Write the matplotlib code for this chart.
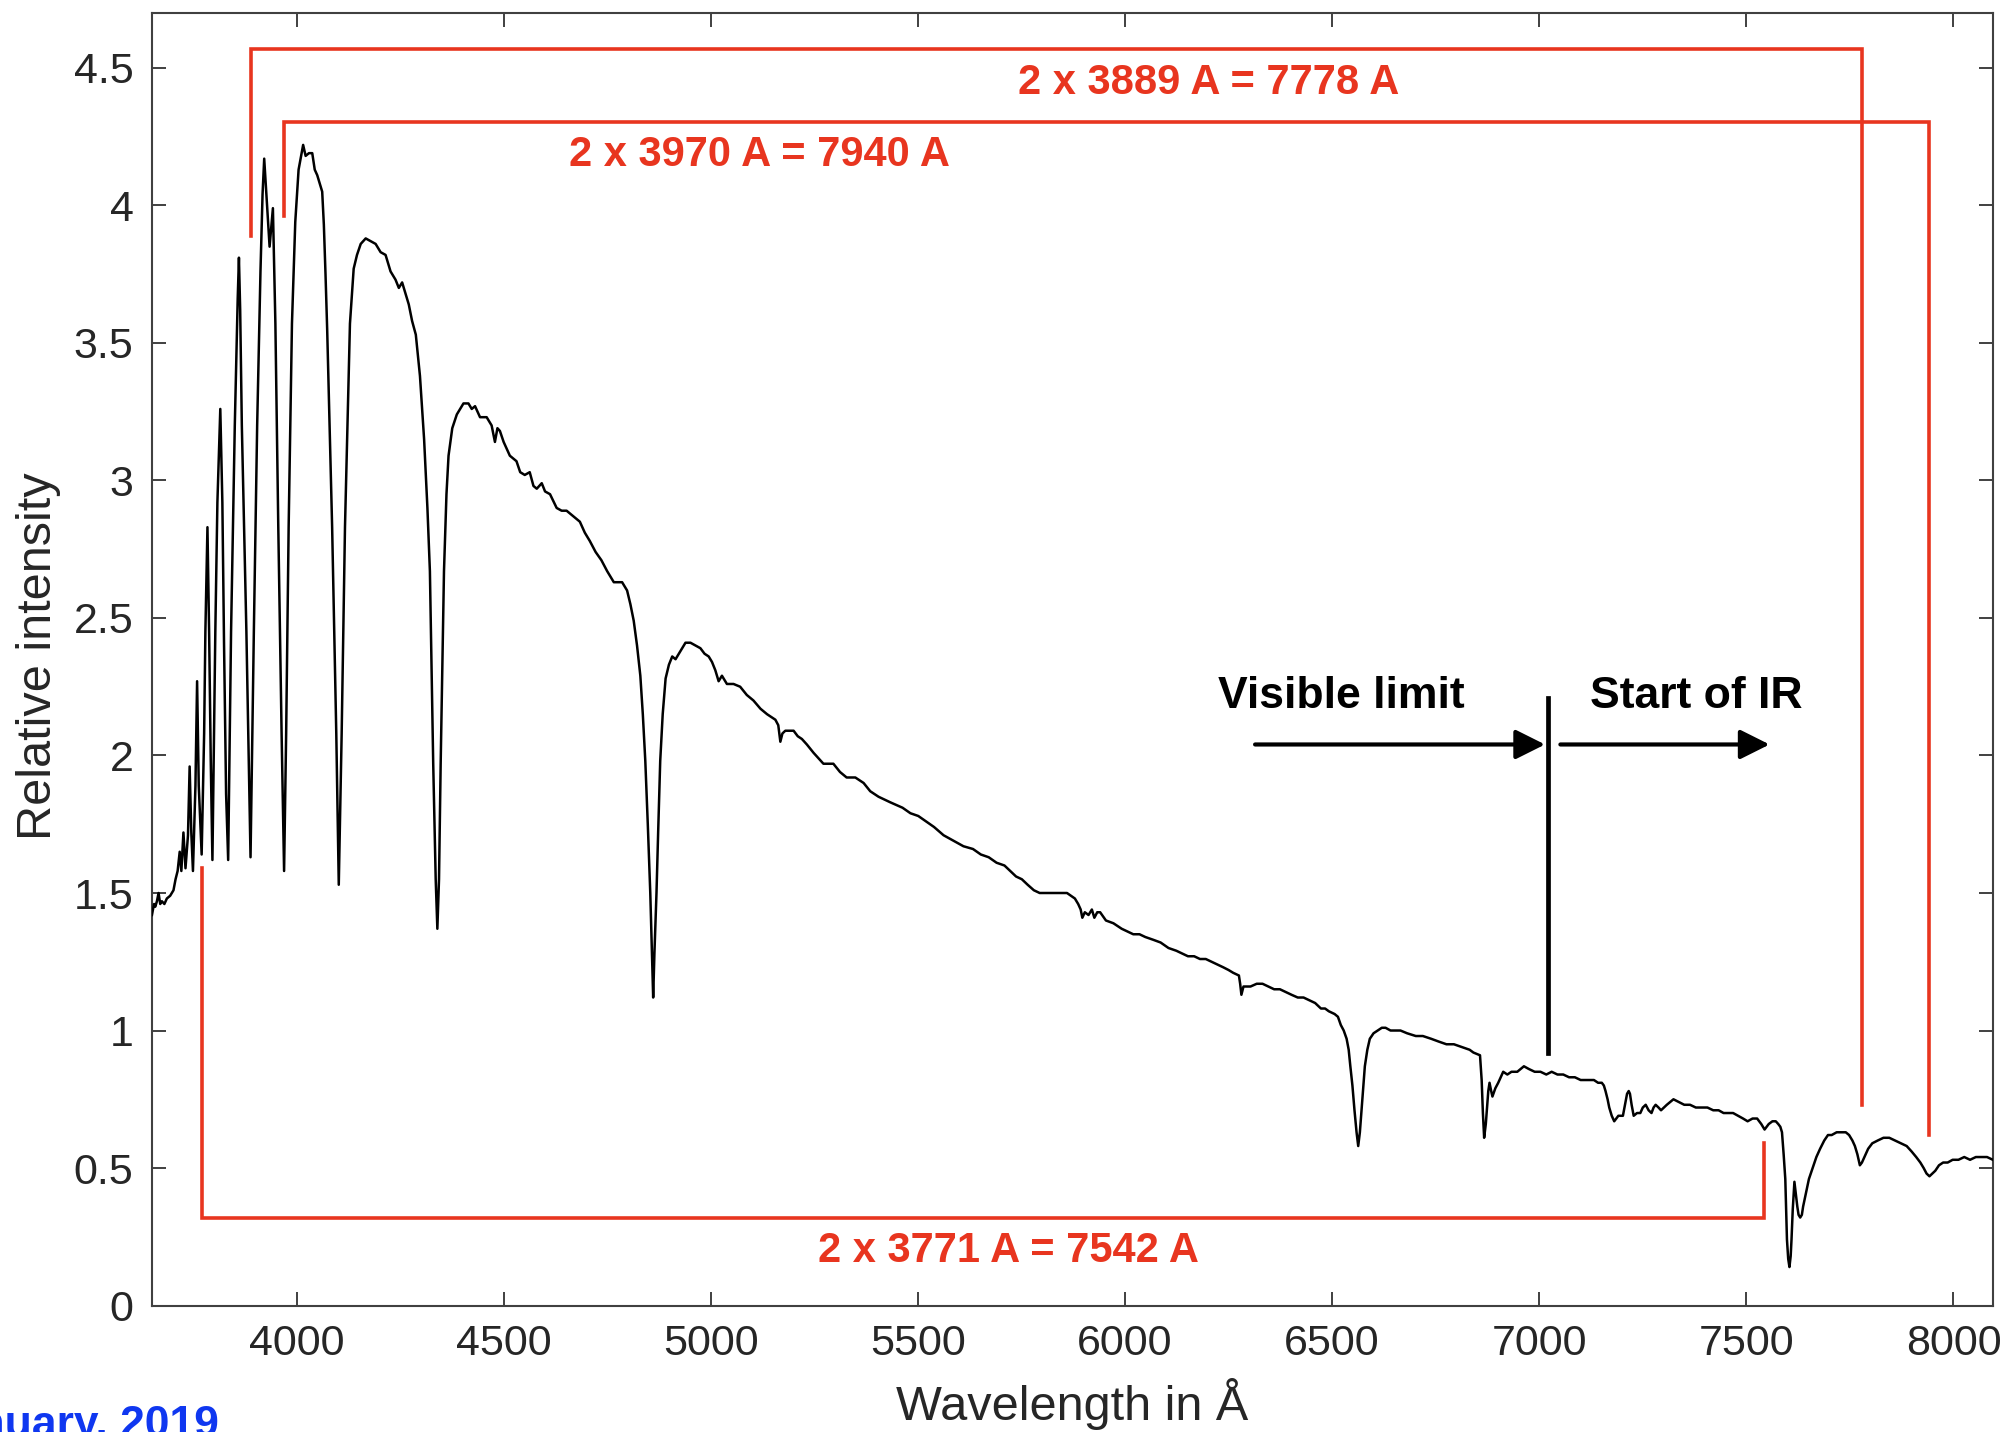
import matplotlib
matplotlib.use("Agg")
import matplotlib.pyplot as plt

plt.rcParams['font.family'] = ['Liberation Sans', 'DejaVu Sans']

# Spectrum: wavelength (Angstrom) and relative intensity
wavelength = [
    3651, 3656, 3659, 3663, 3667, 3671, 3675, 3681, 3687, 3695, 3703, 3708, 3713, 3718, 3722,
    3727, 3732, 3738, 3742, 3746, 3750, 3756, 3760, 3764, 3771, 3777, 3780, 3785, 3789, 3793,
    3797, 3804, 3809, 3816, 3821, 3825, 3830, 3835, 3842, 3851, 3858, 3861, 3864, 3868, 3879,
    3886, 3889, 3897, 3905, 3913, 3918, 3922, 3929, 3935, 3943, 3949, 3956, 3964, 3970, 3975,
    3981, 3989, 3997, 4005, 4016, 4022, 4030, 4038, 4044, 4050, 4056, 4062, 4066, 4070, 4074,
    4086, 4096, 4102, 4109, 4117, 4129, 4138, 4146, 4155, 4167, 4179, 4191, 4203, 4215, 4227,
    4239, 4247, 4255, 4263, 4271, 4279, 4288, 4298, 4308, 4316, 4322, 4330, 4336, 4340, 4344,
    4348, 4356, 4362, 4367, 4376, 4387, 4403, 4415, 4423, 4431, 4443, 4459, 4471, 4479, 4485,
    4491, 4500, 4515, 4531, 4540, 4551, 4563, 4572, 4580, 4592, 4600, 4612, 4628, 4640, 4652,
    4668, 4684, 4696, 4708, 4722, 4736, 4750, 4766, 4786, 4798, 4806, 4814, 4822, 4830, 4836,
    4842, 4848, 4854, 4858, 4861, 4864, 4869, 4873, 4878, 4884, 4891, 4899, 4907, 4915, 4923,
    4931, 4939, 4951, 4963, 4975, 4985, 4995, 5003, 5011, 5019, 5027, 5039, 5055, 5071, 5087,
    5103, 5120, 5136, 5156, 5163, 5168, 5173, 5180, 5200, 5210, 5220, 5232, 5248, 5260, 5272,
    5284, 5296, 5312, 5328, 5349, 5369, 5385, 5405, 5433, 5463, 5482, 5501, 5520, 5539, 5562,
    5586, 5610, 5633, 5652, 5671, 5690, 5709, 5723, 5737, 5751, 5765, 5780, 5794, 5808, 5822,
    5840, 5860, 5879, 5887, 5893, 5897, 5903, 5912, 5920, 5926, 5933, 5940, 5954, 5972, 5992,
    6006, 6020, 6035, 6049, 6068, 6086, 6105, 6124, 6138, 6152, 6167, 6181, 6195, 6209, 6223,
    6237, 6250, 6261, 6275, 6278, 6281, 6286, 6295, 6303, 6318, 6332, 6346, 6360, 6374, 6388,
    6402, 6417, 6431, 6445, 6459, 6473, 6483, 6492, 6506, 6514, 6521, 6528, 6535, 6540, 6544,
    6549, 6554, 6559, 6563, 6567, 6571, 6575, 6579, 6585, 6591, 6600, 6610, 6620, 6629, 6641,
    6653, 6665, 6681, 6702, 6719, 6739, 6757, 6776, 6794, 6813, 6832, 6841, 6857, 6861, 6864,
    6867, 6871, 6874, 6877, 6880, 6884, 6887, 6894, 6901, 6913, 6923, 6933, 6947, 6955, 6963,
    6975, 6989, 7003, 7017, 7030, 7044, 7058, 7072, 7086, 7100, 7110, 7119, 7132, 7142, 7151,
    7156, 7160, 7165, 7169, 7175, 7181, 7186, 7191, 7197, 7202, 7207, 7212, 7216, 7219, 7223,
    7228, 7236, 7244, 7250, 7257, 7264, 7271, 7276, 7281, 7288, 7294, 7301, 7308, 7316, 7324,
    7337, 7350, 7364, 7378, 7392, 7406, 7420, 7433, 7445, 7456, 7468, 7480, 7492, 7503, 7515,
    7526, 7536, 7544, 7554, 7563, 7571, 7577, 7582, 7586, 7590, 7594, 7596, 7598, 7601, 7604,
    7607, 7609, 7612, 7616, 7619, 7623, 7626, 7630, 7634, 7637, 7644, 7651, 7660, 7669, 7678,
    7688, 7697, 7706, 7718, 7730, 7740, 7748, 7756, 7762, 7768, 7774, 7779, 7785, 7794, 7804,
    7817, 7831, 7845, 7859, 7873, 7887, 7899, 7910, 7920, 7928, 7935, 7942, 7949, 7956, 7965,
    7975, 7986, 7998, 8012, 8026, 8040, 8054, 8068, 8081, 8095,
]
intensity = [
    1.42, 1.46, 1.45, 1.47, 1.50, 1.46, 1.47, 1.46, 1.48, 1.49, 1.51, 1.55, 1.58, 1.65, 1.58,
    1.72, 1.59, 1.71, 1.96, 1.72, 1.58, 1.89, 2.27, 1.89, 1.64, 2.08, 2.45, 2.83, 2.45, 1.98,
    1.62, 2.45, 2.92, 3.26, 2.92, 2.41, 1.86, 1.62, 2.45, 3.20, 3.66, 3.81, 3.62, 3.20, 2.45,
    1.89, 1.63, 2.45, 3.20, 3.76, 4.04, 4.17, 4.00, 3.85, 3.99, 3.57, 2.83, 2.08, 1.58, 2.08,
    2.83, 3.57, 3.94, 4.13, 4.22, 4.18, 4.19, 4.19, 4.13, 4.11, 4.08, 4.05, 3.93, 3.75, 3.55,
    2.83, 2.08, 1.53, 2.08, 2.83, 3.57, 3.77, 3.82, 3.86, 3.88, 3.87, 3.86, 3.83, 3.82, 3.76,
    3.73, 3.70, 3.72, 3.68, 3.64, 3.58, 3.53, 3.38, 3.15, 2.90, 2.67, 1.97, 1.55, 1.37, 1.55,
    1.97, 2.67, 2.95, 3.09, 3.19, 3.24, 3.28, 3.28, 3.26, 3.27, 3.23, 3.23, 3.20, 3.14, 3.19,
    3.18, 3.14, 3.09, 3.07, 3.03, 3.02, 3.03, 2.98, 2.97, 2.99, 2.96, 2.95, 2.90, 2.89, 2.89,
    2.87, 2.85, 2.81, 2.78, 2.74, 2.71, 2.67, 2.63, 2.63, 2.60, 2.55, 2.49, 2.40, 2.29, 2.15,
    1.98, 1.75, 1.50, 1.28, 1.12, 1.28, 1.50, 1.72, 1.98, 2.15, 2.28, 2.33, 2.36, 2.35, 2.37,
    2.39, 2.41, 2.41, 2.40, 2.39, 2.37, 2.36, 2.34, 2.31, 2.27, 2.29, 2.26, 2.26, 2.25, 2.22,
    2.20, 2.17, 2.15, 2.13, 2.11, 2.05, 2.08, 2.09, 2.09, 2.07, 2.06, 2.04, 2.01, 1.99, 1.97,
    1.97, 1.97, 1.94, 1.92, 1.92, 1.90, 1.87, 1.85, 1.83, 1.81, 1.79, 1.78, 1.76, 1.74, 1.71,
    1.69, 1.67, 1.66, 1.64, 1.63, 1.61, 1.60, 1.58, 1.56, 1.55, 1.53, 1.51, 1.50, 1.50, 1.50,
    1.50, 1.50, 1.48, 1.46, 1.44, 1.41, 1.43, 1.42, 1.44, 1.41, 1.43, 1.43, 1.40, 1.39, 1.37,
    1.36, 1.35, 1.35, 1.34, 1.33, 1.32, 1.30, 1.29, 1.28, 1.27, 1.27, 1.26, 1.26, 1.25, 1.24,
    1.23, 1.22, 1.21, 1.20, 1.17, 1.13, 1.16, 1.16, 1.16, 1.17, 1.17, 1.16, 1.15, 1.15, 1.14,
    1.13, 1.12, 1.12, 1.11, 1.10, 1.08, 1.08, 1.07, 1.06, 1.05, 1.02, 1.00, 0.97, 0.93, 0.87,
    0.80, 0.71, 0.63, 0.58, 0.63, 0.71, 0.79, 0.87, 0.93, 0.97, 0.99, 1.00, 1.01, 1.01, 1.00,
    1.00, 1.00, 0.99, 0.98, 0.98, 0.97, 0.96, 0.95, 0.95, 0.94, 0.93, 0.92, 0.91, 0.82, 0.70,
    0.61, 0.66, 0.72, 0.78, 0.81, 0.78, 0.76, 0.79, 0.81, 0.85, 0.84, 0.85, 0.85, 0.86, 0.87,
    0.86, 0.85, 0.85, 0.84, 0.85, 0.84, 0.84, 0.83, 0.83, 0.82, 0.82, 0.82, 0.82, 0.81, 0.81,
    0.80, 0.78, 0.75, 0.72, 0.69, 0.67, 0.68, 0.69, 0.69, 0.69, 0.73, 0.77, 0.78, 0.77, 0.73,
    0.69, 0.70, 0.70, 0.72, 0.73, 0.71, 0.70, 0.72, 0.73, 0.72, 0.71, 0.72, 0.73, 0.74, 0.75,
    0.74, 0.73, 0.73, 0.72, 0.72, 0.72, 0.71, 0.71, 0.70, 0.70, 0.70, 0.69, 0.68, 0.67, 0.68,
    0.68, 0.66, 0.64, 0.66, 0.67, 0.67, 0.66, 0.65, 0.63, 0.55, 0.46, 0.35, 0.24, 0.17, 0.14,
    0.18, 0.24, 0.35, 0.45, 0.41, 0.36, 0.33, 0.32, 0.33, 0.36, 0.41, 0.46, 0.50, 0.54, 0.57,
    0.60, 0.62, 0.62, 0.63, 0.63, 0.63, 0.62, 0.60, 0.58, 0.55, 0.51, 0.52, 0.54, 0.57, 0.59,
    0.60, 0.61, 0.61, 0.60, 0.59, 0.58, 0.56, 0.54, 0.52, 0.50, 0.48, 0.47, 0.48, 0.49, 0.51,
    0.52, 0.52, 0.53, 0.53, 0.54, 0.53, 0.54, 0.54, 0.54, 0.53,
]

# Second-order brackets: first-order wavelength, doubled wavelength,
# bracket height, end heights of the left / right legs, label position
bracket_first = [3889, 3970, 3771]
bracket_second = [7778, 7940, 7542]
bracket_level = [4.57, 4.305, 0.317]
bracket_left_end = [3.89, 3.96, 1.59]
bracket_right_end = [0.73, 0.62, 0.59]
bracket_label_x = [6202, 5118, 5718]
bracket_label_y = [4.405, 4.142, 0.16]

visible_limit = 7020

x_ticks = [4000, 4500, 5000, 5500, 6000, 6500, 7000, 7500, 8000]
y_ticks = [0, 0.5, 1, 1.5, 2, 2.5, 3, 3.5, 4, 4.5]
y_tick_labels = ['0', '0.5', '1', '1.5', '2', '2.5', '3', '3.5', '4', '4.5']

red = '#e8351f'
axis_grey = '#404040'

fig = plt.figure(figsize=(20.15, 14.32), dpi=100)
ax = fig.add_axes([0.0752, 0.0883, 0.9138, 0.9027])

ax.plot(wavelength, intensity, color='black', lw=1.8, zorder=3)

# red brackets linking each line to its second-order image
for i in range(len(bracket_first)):
    x1, x2 = bracket_first[i], bracket_second[i]
    lvl = bracket_level[i]
    ax.plot([x1, x1, x2, x2], [bracket_left_end[i], lvl, lvl, bracket_right_end[i]],
            color=red, lw=2.6, solid_joinstyle='miter', zorder=2)
    ax.text(bracket_label_x[i], bracket_label_y[i],
            f"2 x {x1} A = {x2} A", color=red, fontsize=30, fontweight='bold',
            ha='center', va='baseline')

# visible / infrared boundary
ax.plot([visible_limit, visible_limit], [0.92, 2.21], color='black', lw=3.4, zorder=4)
arrow_style = dict(arrowstyle='-|>,head_length=0.4,head_width=0.2', color='black',
                   lw=3, mutation_scale=45, shrinkA=0, shrinkB=0)
ax.annotate('', xy=(7014, 2.04), xytext=(6314, 2.04), arrowprops=arrow_style)
ax.annotate('', xy=(7556, 2.04), xytext=(7051, 2.04), arrowprops=arrow_style)
ax.text(6522, 2.172, 'Visible limit', fontsize=32, fontweight='bold',
        ha='center', va='baseline')
ax.text(7379, 2.172, 'Start of IR', fontsize=32, fontweight='bold',
        ha='center', va='baseline')

ax.set_xlim(3650, 8095)
ax.set_ylim(0, 4.7)
ax.set_xticks(x_ticks)
ax.set_xticklabels([str(t) for t in x_ticks])
ax.set_yticks(y_ticks)
ax.set_yticklabels(y_tick_labels)

ax.tick_params(direction='in', length=10, width=1.4, colors=axis_grey,
               labelcolor='#262626', labelsize=31, pad=13,
               top=True, right=True)
for side in ax.spines.values():
    side.set_color(axis_grey)
    side.set_linewidth(1.5)

ax.set_xlabel('Wavelength in Å', fontsize=35, color='#262626')
ax.set_ylabel('Relative intensity', fontsize=35, color='#262626')
ax.xaxis.set_label_coords(0.5, -0.056)
ax.yaxis.set_label_coords(-0.049, 0.502)

# date line running off the lower-left corner of the page
fig.text(0.1087, -0.0035, 'January, 2019', color='#0f37f0', fontsize=32,
         fontweight='bold', ha='right', va='baseline')

fig.savefig('out.png', dpi=100)
